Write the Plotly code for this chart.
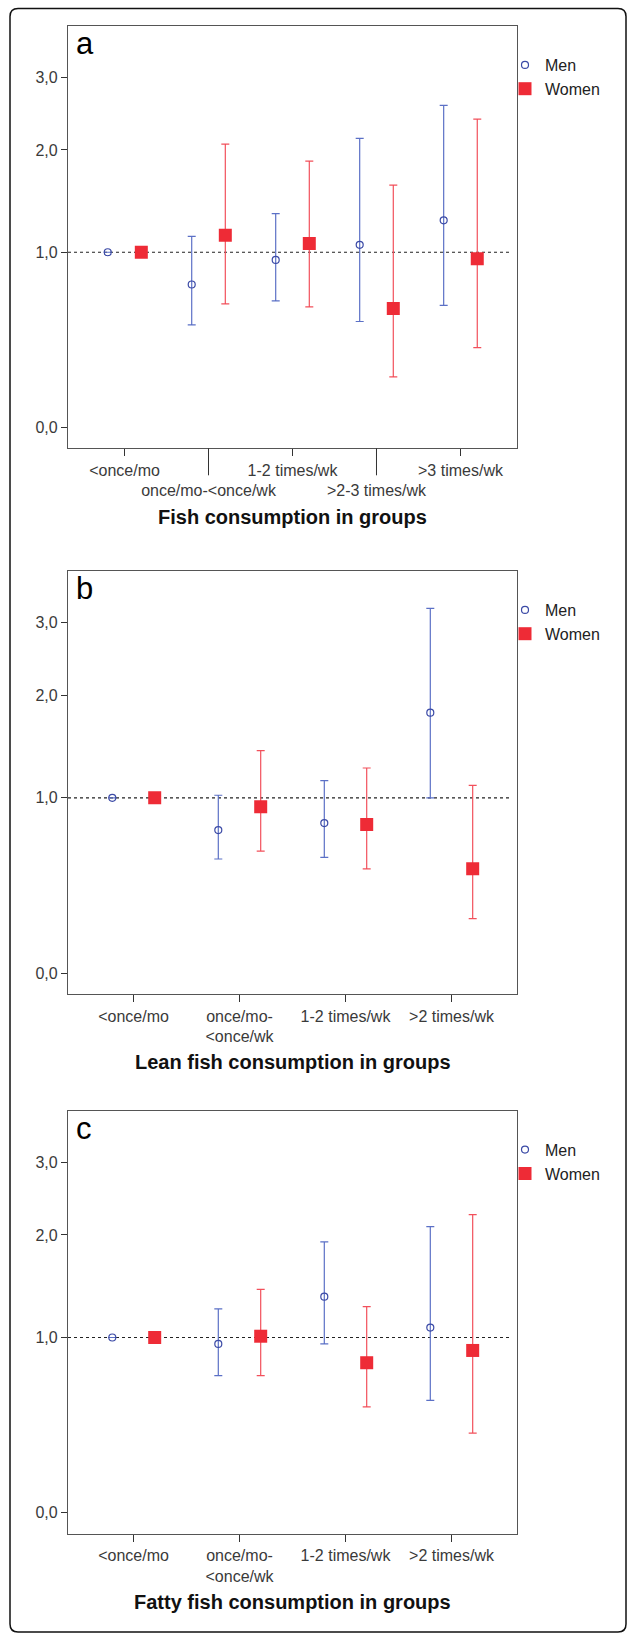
import numpy as np
import plotly.graph_objects as go

# ---------------- data (odds ratios with 95% CI) ----------------
cats_a = ["<once/mo", "once/mo-<once/wk", "1-2 times/wk", ">2-3 times/wk", ">3 times/wk"]
men_a = [1.0, 0.76, 0.94, 1.06, 1.27]
men_a_lo = [1.0, 0.50, 0.65, 0.52, 0.62]
men_a_hi = [1.0, 1.13, 1.33, 2.14, 2.58]
women_a = [1.0, 1.14, 1.07, 0.60, 0.95]
women_a_lo = [1.0, 0.63, 0.61, 0.22, 0.37]
women_a_hi = [1.0, 2.07, 1.87, 1.61, 2.39]

cats_b = ["<once/mo", "once/mo-\n<once/wk", "1-2 times/wk", ">2 times/wk"]
men_b = [1.0, 0.76, 0.81, 1.80]
men_b_lo = [1.0, 0.57, 0.58, 1.00]
men_b_hi = [1.0, 1.02, 1.14, 3.23]
women_b = [1.0, 0.93, 0.80, 0.51]
women_b_lo = [1.0, 0.62, 0.51, 0.24]
women_b_hi = [1.0, 1.41, 1.25, 1.10]

cats_c = ["<once/mo", "once/mo-\n<once/wk", "1-2 times/wk", ">2 times/wk"]
men_c = [1.0, 0.95, 1.35, 1.08]
men_c_lo = [1.0, 0.72, 0.95, 0.56]
men_c_hi = [1.0, 1.24, 1.92, 2.10]
women_c = [1.0, 1.01, 0.81, 0.90]
women_c_lo = [1.0, 0.72, 0.52, 0.37]
women_c_hi = [1.0, 1.42, 1.26, 2.25]

titles = ["Fish consumption in groups", "Lean fish consumption in groups", "Fatty fish consumption in groups"]
letters = ["a", "b", "c"]
y_ticks = [0.0, 1.0, 2.0, 3.0]
y_ticklabels = ["0,0", "1,0", "2,0", "3,0"]

# ---------------- styling ----------------
W, H = 627, 1640
FONT = "Liberation Sans, Arial, sans-serif"
MEN_MK = "#3b4aa6"
MEN_BAR = "#5b70c6"
WOM_MK = "#ee2b36"
WOM_BAR = "#f2505b"
TXT = "#3a3a3a"

def py(px):
    return 1 - px / H

def esc(s):
    return s.replace("<", "&lt;").replace(">", "&gt;").replace("\n", "<br>")

# frame (pixel) for each panel: top, bottom
frames = [(26, 448.3), (571, 994.3), (1110.7, 1534)]
x_left, x_right = 68, 517
yrange = [-0.084, 1.59]

panels = [
    (cats_a, men_a, men_a_lo, men_a_hi, women_a, women_a_lo, women_a_hi),
    (cats_b, men_b, men_b_lo, men_b_hi, women_b, women_b_lo, women_b_hi),
    (cats_c, men_c, men_c_lo, men_c_hi, women_c, women_c_lo, women_c_hi),
]

fig = go.Figure()
shapes = []
annotations = []

for i, (cats, m, mlo, mhi, w, wlo, whi) in enumerate(panels):
    k = "" if i == 0 else str(i + 1)
    xa, ya = "x" + k, "y" + k
    leg = "legend" + k
    n = len(cats)
    idx = np.arange(n)
    for name, v, lo, hi, dx, mk, bar, sym, size in [
        ("Men", m, mlo, mhi, -0.2, MEN_MK, MEN_BAR, "circle-open", 7),
        ("Women", w, wlo, whi, 0.2, WOM_MK, WOM_BAR, "square", 13),
    ]:
        v = np.asarray(v); lo = np.asarray(lo); hi = np.asarray(hi)
        yv = np.log1p(v)
        fig.add_trace(go.Scatter(
            x=idx + dx, y=yv, mode="markers", name=name,
            xaxis=xa, yaxis=ya, legend=leg,
            marker=dict(symbol=sym, size=size, color=mk,
                        line=dict(color=mk, width=1.2 if sym == "circle-open" else 0)),
            error_y=dict(type="data", symmetric=False,
                         array=np.log1p(hi) - yv, arrayminus=yv - np.log1p(lo),
                         color=bar, thickness=1.2, width=4),
            showlegend=True,
        ))
    top, bot = frames[i]
    if n == 5:
        xr = [-0.673, n - 1 + 0.673]
        ticktext = [esc(c) if j % 2 == 0 else "<br>" + esc(c) for j, c in enumerate(cats)]
    else:
        xr = [-0.618, n - 1 + 0.618]
        ticktext = [esc(c) for c in cats]
    fig.update_layout(**{
        ("xaxis" + k): dict(
            domain=[x_left / W, x_right / W], anchor=ya, range=xr,
            tickmode="array", tickvals=list(idx), ticktext=ticktext, tickangle=0,
            ticks="outside", ticklen=7, tickcolor="#333", tickwidth=1,
            showline=True, linecolor="#555", linewidth=1.2, mirror=True,
            showgrid=False, zeroline=False, fixedrange=True,
            tickfont=dict(family=FONT, size=16, color=TXT),
        ),
        ("yaxis" + k): dict(
            domain=[py(bot), py(top)], anchor=xa, range=yrange,
            tickmode="array", tickvals=list(np.log1p(y_ticks)), ticktext=y_ticklabels,
            ticks="outside", ticklen=6, tickcolor="#333", tickwidth=1,
            showline=True, linecolor="#555", linewidth=1.2, mirror=True,
            showgrid=False, zeroline=False,
            tickfont=dict(family=FONT, size=16, color=TXT),
        ),
        leg: dict(
            x=505 / W, y=py(top + 22), xanchor="left", yanchor="top",
            font=dict(family=FONT, size=16, color="#222"),
            bgcolor="rgba(0,0,0,0)", tracegroupgap=0, itemwidth=30,
        ),
    })
    # reference dotted line at OR = 1
    shapes.append(dict(type="line", xref=xa + " domain", yref=ya,
                       x0=0, x1=0.985, y0=np.log1p(1.0), y1=np.log1p(1.0),
                       line=dict(color="#222", width=1.2, dash="3px,3px"), layer="below"))
    # longer ticks for staggered labels
    if n == 5:
        for j in [1, 3]:
            shapes.append(dict(type="line", xref=xa, yref="paper", x0=j, x1=j,
                               y0=py(bot), y1=py(bot + 27),
                               line=dict(color="#333", width=1)))
    # panel letter
    annotations.append(dict(text=letters[i], xref="paper", yref="paper",
                            x=74 / W, y=py(top - 2), xanchor="left", yanchor="top",
                            showarrow=False, font=dict(family=FONT, size=31, color="#000")))
    # axis title
    title_y = [516.7, 1061.7, 1601.5][i]
    annotations.append(dict(text="<b>" + titles[i] + "</b>", xref="paper", yref="paper",
                            x=(x_left + x_right) / 2 / W, y=py(title_y), xanchor="center", yanchor="middle",
                            showarrow=False, font=dict(family=FONT, size=20, color="#111")))

# outer rounded border (paper coordinates)
x0, y0, x1, y1, r = 10, 8.5, 626, 1632, 8
def pp(xp, ypx):
    return f"{xp / W:.5f},{py(ypx):.5f}"
path = (f"M {pp(x0+r,y0)} L {pp(x1-r,y0)} Q {pp(x1,y0)} {pp(x1,y0+r)} L {pp(x1,y1-r)} Q {pp(x1,y1)} {pp(x1-r,y1)} "
        f"L {pp(x0+r,y1)} Q {pp(x0,y1)} {pp(x0,y1-r)} L {pp(x0,y0+r)} Q {pp(x0,y0)} {pp(x0+r,y0)} Z")
shapes.append(dict(type="path", xref="paper", yref="paper", path=path,
                   line=dict(color="#111", width=1.5), layer="below"))

fig.update_layout(
    width=W, height=H, margin=dict(l=0, r=0, t=0, b=0),
    paper_bgcolor="white", plot_bgcolor="white",
    shapes=shapes, annotations=annotations, showlegend=True,
    font=dict(family=FONT),
)
fig.write_html("out.html", config={"displayModeBar": False},
               post_script="document.body.style.margin='0px';document.body.style.overflow='hidden';")
